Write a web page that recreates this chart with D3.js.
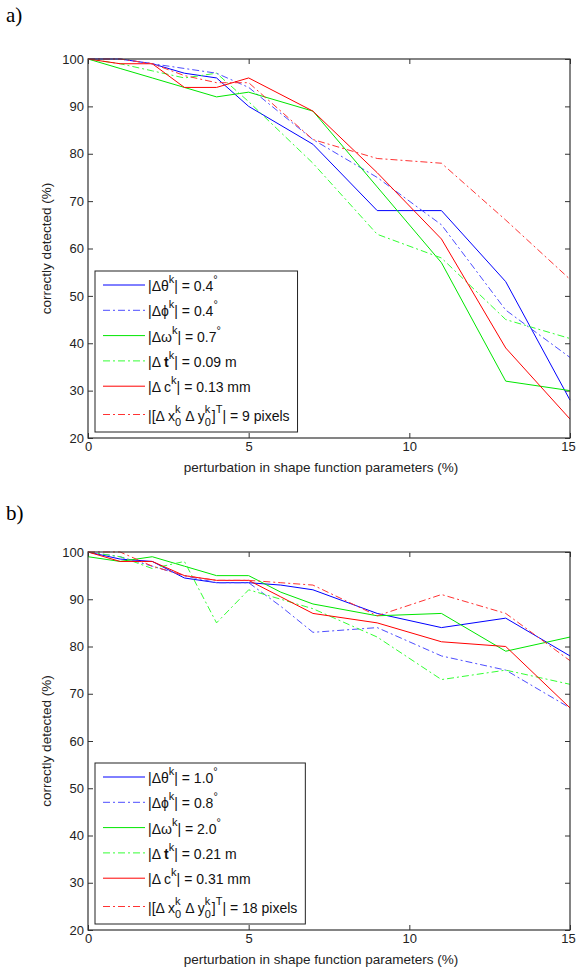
<!DOCTYPE html>
<html lang="en">
<head>
<meta charset="UTF-8">
<title>correctly detected vs perturbation</title>
<style>
  body { margin: 0; background: #fff; }
  text { font-family: "Liberation Sans", Arial, Helvetica, sans-serif; }
</style>
</head>
<body>
<svg id="svg" width="576" height="970"></svg>
<script src="https://d3js.org/d3.v7.min.js"></script>
<script>
// ---- data ----
const xTicks = [0, 5, 10, 15]
const yTicks = [20, 30, 40, 50, 60, 70, 80, 90, 100]

// panel a)
const xA = [0, 1, 2, 3, 4, 5, 7, 9, 11, 13, 15]
const thetaA = [100, 100, 99, 97, 96, 90, 82, 68, 68, 53, 28]
const phiA = [100, 100, 99, 98, 97, 94, 83, 75, 65, 47, 37]
const omegaA = [100, 98, 96, 94, 92, 93, 89, 73, 57, 32, 30]
const tA = [100, 99, 97.5, 96, 97, 91, 78, 63, 58, 45, 41]
const cA = [100, 99, 99, 94, 94, 96, 89, 76, 62, 39, 24]
const x0A = [100, 100, 99, 96.5, 95, 95, 83, 79, 78, 66, 53.5]

// panel b)
const xB = [0, 1, 2, 3, 4, 5, 6, 7, 9, 11, 13, 15]
const thetaB = [100, 98.5, 98, 94.5, 93.5, 93.5, 93, 92, 87, 84, 86, 78]
const phiB = [100, 99, 97, 95, 93.5, 93.5, 88.5, 83, 84, 78, 75, 67]
const omegaB = [99, 98, 99, 97, 95, 95, 91.5, 89, 86.5, 87, 79, 82]
const tB = [100, 99, 96.5, 98, 85, 92, 90, 88, 82, 73, 75, 72]
const cB = [100, 98, 98, 95, 94, 94, 90.5, 87, 85, 81, 80, 67]
const x0B = [100, 100, 97, 95, 94, 94, 93.5, 93, 86.5, 91, 87, 77]

// legend texts: [text, kind]  kind: n / sup / b / supsub ("k|0")
const legendA = [
  [["|Δθ"], ["k", "sup"], ["| = 0.4"], ["°", "sup"]],
  [["|Δϕ"], ["k", "sup"], ["| = 0.4"], ["°", "sup"]],
  [["|Δω"], ["k", "sup"], ["| = 0.7"], ["°", "sup"]],
  [["|Δ "], ["t", "b"], ["k", "sup"], ["| = 0.09 m"]],
  [["|Δ c"], ["k", "sup"], ["| = 0.13 mm"]],
  [["|[Δ x"], ["k|0", "supsub"], [" Δ y"], ["k|0", "supsub"], ["]"], ["T", "sup"], ["| = 9 pixels"]]
]
const legendB = [
  [["|Δθ"], ["k", "sup"], ["| = 1.0"], ["°", "sup"]],
  [["|Δϕ"], ["k", "sup"], ["| = 0.8"], ["°", "sup"]],
  [["|Δω"], ["k", "sup"], ["| = 2.0"], ["°", "sup"]],
  [["|Δ "], ["t", "b"], ["k", "sup"], ["| = 0.21 m"]],
  [["|Δ c"], ["k", "sup"], ["| = 0.31 mm"]],
  [["|[Δ x"], ["k|0", "supsub"], [" Δ y"], ["k|0", "supsub"], ["]"], ["T", "sup"], ["| = 18 pixels"]]
]

const colors = ["#0000ff", "#4d4dff", "#00e600", "#33ff33", "#ff0000", "#ff3333"]
const dashed = [false, true, false, true, false, true]

const svg = d3.select("#svg")

function panel(opts) {
  const { top, bottom, xs, series, legend, tag, tagY, legTop } = opts
  const left = 88, right = 570

  const x = d3.scaleLinear().domain([0, 15]).range([left, right])
  const y = d3.scaleLinear().domain([20, 100]).range([bottom, top])

  svg.append("text")
    .text(tag)
    .attr("x", 6).attr("y", tagY)
    .style("font-family", "'Liberation Serif', 'Times New Roman', serif")
    .style("font-size", "21px")

  const g = svg.append("g")

  // ticks on all four sides, pointing inward
  const axes = [
    [d3.axisBottom(x).tickValues(xTicks), `translate(0,${bottom})`],
    [d3.axisTop(x).tickValues(xTicks).tickFormat(""), `translate(0,${top})`],
    [d3.axisLeft(y).tickValues(yTicks), `translate(${left},0)`],
    [d3.axisRight(y).tickValues(yTicks).tickFormat(""), `translate(${right},0)`]
  ]
  axes.forEach(([ax, tr]) => {
    const a = g.append("g")
      .attr("transform", tr)
      .call(ax.tickSizeInner(-5).tickSizeOuter(0).tickPadding(4))
    a.select(".domain").remove()
    a.selectAll("line").attr("stroke", "#333")
    a.selectAll("text")
      .style("font-family", "'Liberation Sans', Arial, sans-serif")
      .style("font-size", "13px")
      .attr("fill", "#222")
  })
  // last x label sits at the window edge; nudge it so it stays inside
  g.selectAll("text").filter(d => d === 15).attr("dx", "-2")

  const line = d3.line().x((d, i) => x(xs[i])).y(d => y(d))
  series.forEach((s, i) => {
    g.append("path")
      .attr("d", line(s))
      .attr("fill", "none")
      .attr("stroke", colors[i])
      .attr("stroke-width", 1)
      .attr("stroke-dasharray", dashed[i] ? "7,3,2,3" : null)
  })

  g.append("rect")
    .attr("x", left).attr("y", top)
    .attr("width", right - left).attr("height", bottom - top)
    .attr("fill", "none").attr("stroke", "#333").attr("stroke-width", 1.2)

  // axis labels
  svg.append("text")
    .text("perturbation in shape function parameters (%)")
    .attr("x", 321).attr("y", bottom + 34)
    .attr("text-anchor", "middle")
    .style("font-size", "13.5px").attr("fill", "#222")

  svg.append("text")
    .text("correctly detected (%)")
    .attr("transform", `translate(51,${(top + bottom) / 2}) rotate(-90)`)
    .attr("text-anchor", "middle")
    .style("font-size", "13.5px").attr("fill", "#222")

  // legend
  const lg = svg.append("g")
  const box = lg.append("rect").attr("fill", "#fff").attr("stroke", "#222").attr("stroke-width", 1)
  const fs = 14
  let maxX = 0
  legend.forEach((row, i) => {
    const ly = legTop + 14 + i * 25.3 + (i === 5 ? 3 : 0)
    lg.append("line")
      .attr("x1", 103).attr("x2", 145).attr("y1", ly).attr("y2", ly)
      .attr("stroke", colors[i]).attr("stroke-width", 1)
      .attr("stroke-dasharray", dashed[i] ? "7,3,2,3" : null)
    let cx = 148
    const base = ly + 6
    const put = (t, dy, size, weight) => {
      const el = lg.append("text")
        .text(t)
        .attr("x", cx).attr("y", base + dy)
        .style("font-size", size + "px")
        .style("font-weight", weight || "normal")
        .style("white-space", "pre")
        .attr("fill", "#111")
      return el.node().getComputedTextLength()
    }
    row.forEach(([t, kind]) => {
      if (kind === "sup") cx += put(t, -8, 11)
      else if (kind === "b") cx += put(t, 0, fs, "bold")
      else if (kind === "supsub") {
        const [a, b] = t.split("|")
        const w1 = put(a, -8, 11)
        const w2 = put(b, 5, 11)
        cx += Math.max(w1, w2) + 1
      } else cx += put(t, 0, fs)
    })
    maxX = Math.max(maxX, cx)
  })
  box.attr("x", 95).attr("y", legTop)
    .attr("width", maxX + 8 - 95).attr("height", 161)
}

panel({
  top: 59, bottom: 438, xs: xA,
  series: [thetaA, phiA, omegaA, tA, cA, x0A],
  legend: legendA, tag: "a)", tagY: 22, legTop: 271
})

panel({
  top: 552, bottom: 930, xs: xB,
  series: [thetaB, phiB, omegaB, tB, cB, x0B],
  legend: legendB, tag: "b)", tagY: 520, legTop: 763
})
</script>
</body>
</html>
